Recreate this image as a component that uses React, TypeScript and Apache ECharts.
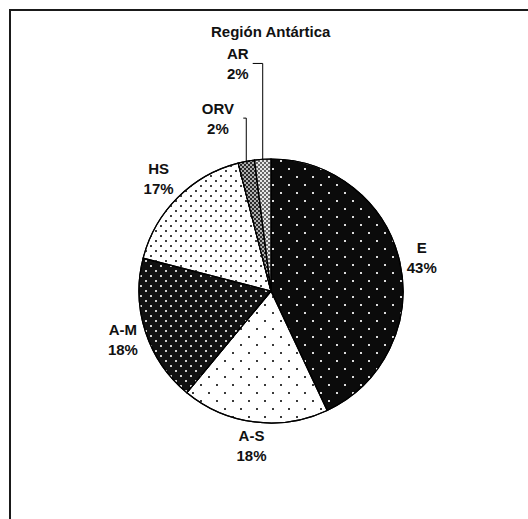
import React, { useEffect, useRef } from 'react';
import * as echarts from 'echarts';

// ---- data ----
const categories = ['E', 'A-S', 'A-M', 'HS', 'ORV', 'AR'];
const shares = [43, 18, 18, 17, 2, 2];
const titleText = 'Región Antártica';

// ---- layout / style ----
const FONT = "'Liberation Sans', Arial, Helvetica, sans-serif";
const PIE_CENTER = [271, 291];
const PIE_RADIUS = 132;
const LABEL_GAP = 4;

const sliceStyles = [
  {
    color: '#0b0b0b',
    decal: { symbol: 'rect', symbolSize: 1, color: '#dcdcdc', dashArrayX: [[2, 14], [0, 8, 2, 6]], dashArrayY: [2, 6] },
  },
  {
    color: '#ffffff',
    decal: { symbol: 'rect', symbolSize: 1, color: '#3a3a3a', dashArrayX: [[2, 14], [0, 8, 2, 6]], dashArrayY: [2, 6] },
  },
  {
    color: '#111111',
    decal: { symbol: 'rect', symbolSize: 1, color: '#d0d0d0', dashArrayX: [[2, 8], [0, 5, 2, 3]], dashArrayY: [2, 3] },
  },
  {
    color: '#ffffff',
    decal: { symbol: 'rect', symbolSize: 1, color: '#404040', dashArrayX: [[2, 8], [0, 5, 2, 3]], dashArrayY: [2, 3] },
  },
  {
    color: '#2a2a2a',
    decal: { symbol: 'rect', symbolSize: 1, color: '#b0b0b0', dashArrayX: [[2, 2], [0, 2, 2, 0]], dashArrayY: [2, 0] },
  },
  {
    color: '#e6e6e6',
    decal: { symbol: 'rect', symbolSize: 1, color: '#666666', dashArrayX: [[2, 2], [0, 2, 2, 0]], dashArrayY: [2, 0] },
  },
];

// leader lines for the two thin slices (by index); tail = short horizontal end
const leaderLines: Record<number, { length: number; length2: number; dist: number; tail: number }> = {
  4: { length: 44, length2: 2, dist: 2, tail: 3 },
  5: { length: 96, length2: 5, dist: 3, tail: 10 },
};

const textStyle = {
  fontFamily: FONT,
  fontWeight: 'bold' as const,
  fontSize: 15,
  color: '#111',
  lineHeight: 20,
  align: 'center' as const,
};

export default function App() {
  const ref = useRef<HTMLDivElement>(null);

  useEffect(() => {
    if (!ref.current) return;
    const chart = echarts.init(ref.current, undefined, { renderer: 'svg' });
    const total = shares.reduce((a, b) => a + b, 0);

    const data = categories.map((name, i) => {
      const item: any = {
        name,
        value: shares[i],
        itemStyle: { color: sliceStyles[i].color, decal: sliceStyles[i].decal },
      };
      const ll = leaderLines[i];
      if (ll) {
        item.label = { distanceToLabelLine: ll.dist };
        item.labelLine = {
          show: true,
          length: ll.length,
          length2: ll.length2,
          lineStyle: { color: '#000', width: 1 },
        };
      }
      return item;
    });

    chart.setOption({
      animation: false,
      backgroundColor: '#ffffff',
      title: {
        text: titleText,
        left: 211,
        top: 24,
        padding: 0,
        textStyle: { fontFamily: FONT, fontWeight: 'bold', fontSize: 15, color: '#111' },
      },
      graphic: [
        {
          type: 'rect',
          z: 10,
          shape: { x: 10, y: 10, width: 600, height: 600 },
          style: { fill: 'none', stroke: '#1a1a1a', lineWidth: 2 },
        },
      ],
      series: [
        {
          type: 'pie',
          center: PIE_CENTER,
          radius: PIE_RADIUS,
          startAngle: 90,
          clockwise: true,
          avoidLabelOverlap: false,
          itemStyle: { borderColor: '#000', borderWidth: 1.2 },
          label: {
            show: true,
            position: 'outside',
            formatter: (p: any) => `{t|${p.name}}\n{t|${Math.round(p.percent)}%}`,
            rich: { t: textStyle },
          },
          labelLine: { show: false },
          emphasis: { disabled: true },
          labelLayout: (params: any) => {
            const i = params.dataIndex;
            const ll = leaderLines[i];
            if (ll) {
              const pts = params.labelLinePoints;
              if (!pts || pts.length < 2) return {};
              const p0 = pts[0];
              const yTop = pts[1][1];
              // vertical rise from the slice edge, then a short horizontal tail
              return {
                labelLinePoints: [
                  [p0[0], p0[1]],
                  [p0[0], yTop],
                  [p0[0] - ll.tail, yTop],
                ],
              };
            }
            let cum = 0;
            for (let j = 0; j < i; j++) cum += shares[j];
            const mid = ((cum + shares[i] / 2) / total) * Math.PI * 2;
            const dx = Math.sin(mid);
            const dy = -Math.cos(mid);
            const w = params.labelRect.width;
            const h = params.labelRect.height;
            const d = PIE_RADIUS + LABEL_GAP + (Math.abs(dx) * w) / 2 + (Math.abs(dy) * h) / 2;
            return {
              x: PIE_CENTER[0] + dx * d,
              y: PIE_CENTER[1] + dy * d,
              align: 'center',
              verticalAlign: 'middle',
            };
          },
          data,
        },
      ],
    });

    return () => chart.dispose();
  }, []);

  return (
    <div
      ref={ref}
      style={{ position: 'fixed', left: 0, top: 0, width: 528, height: 519, background: '#fff' }}
    />
  );
}
